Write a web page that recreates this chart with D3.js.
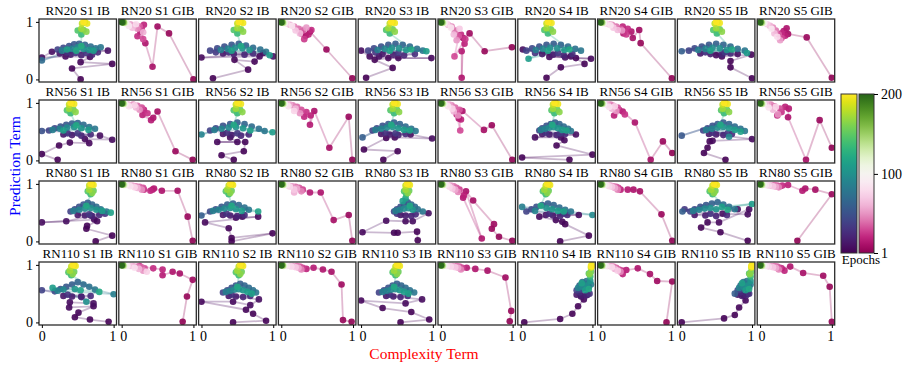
<!DOCTYPE html>
<html>
<head>
<meta charset="utf-8">
<script src="https://cdn.jsdelivr.net/npm/d3@7"></script>
<style>
  body { margin: 0; background: #fff; }
  svg { display: block; }
  text { font-family: "Liberation Serif", "Times New Roman", serif; }
</style>
</head>
<body>
<div id="chart"></div>
<script>
// panel labels
const models = ["RN20", "RN56", "RN80", "RN110"];
const seeds = ["S1", "S2", "S3", "S4", "S5"];
const methods = ["IB", "GIB"];
const axisTicks = [0, 1];
const epochTicks = [1, 100, 200];

// each point: [epoch, complexity term, prediction term]
const rn20S1IB = [[1,.54,.00],[2,.42,.19],[3,.98,.27],[4,.54,.30],[70,.00,.33],[6,.67,.39],[7,.33,.40],[8,.00,.38],[9,.14,.48],[10,.92,.50],
  [14,.25,.45],[17,.40,.43],[20,.55,.42],[23,.70,.43],[26,.78,.47],[29,.35,.47],[32,.62,.46],[35,.47,.46],
  [40,.22,.52],[45,.30,.55],[50,.38,.58],[55,.45,.61],[60,.52,.62],[65,.60,.60],[72,.68,.57],[75,.75,.54],[80,.82,.56],[85,.28,.50],[90,.42,.53],[95,.50,.56],[100,.58,.53],[105,.66,.51],[110,.72,.50],[115,.35,.52],[120,.48,.50],[125,.55,.58],
  [135,.55,.78],[145,.50,.85],[155,.58,.86],[165,.62,.83],[172,.55,.88],[182,.56,.97],[188,.60,1.0],[194,.63,.97],[200,.58,1.0]];
const rn20S1GIB = [[1,1.0,.00],[4,.66,.80],[7,.50,.92],[10,.43,.22],[13,.33,.63],[16,.26,.83],[19,.31,.95],[22,.22,.75],[25,.28,.88],[30,.30,.70],
  [36,.25,.92],[42,.18,.94],[48,.22,.88],[54,.12,.96],[60,.30,.82],[66,.15,.90],[72,.08,.97],[80,.20,.96],[88,.10,.93],[96,.05,.98],
  [110,.06,.99],[125,.04,.98],[150,.03,.99],[170,.02,1.0],[190,.01,.99],[200,.00,1.0]];
const rn20S2IB = [[1,.16,.02],[2,.65,.17],[3,.46,.34],[4,.74,.31],[5,.81,.40],[6,.00,.38],[8,.86,.46],[10,1.0,.40],
  [14,.30,.45],[18,.45,.44],[22,.60,.43],[26,.72,.45],[30,.38,.47],[34,.20,.47],
  [40,.12,.50],[45,.22,.54],[50,.32,.57],[55,.42,.60],[60,.52,.62],[65,.62,.59],[70,.72,.55],[75,.82,.52],[80,.90,.48],[85,.27,.51],[90,.37,.53],[95,.47,.55],[100,.57,.54],[105,.67,.51],[110,.95,.42],[115,.42,.50],[120,.55,.58],
  [135,.50,.80],[145,.45,.86],[155,.55,.87],[165,.58,.83],[172,.50,.89],[182,.50,.97],[190,.55,1.0],[196,.58,.98],[200,.52,1.0]];
const rn20S2GIB = [[1,.99,.02],[5,.63,.52],[9,.40,.83],[12,.34,.76],[15,.28,.80],[18,.38,.78],[22,.42,.86],[26,.32,.70],
  [34,.30,.85],[40,.24,.88],[46,.18,.92],[52,.35,.90],[58,.12,.95],[64,.26,.80],[70,.20,.85],[78,.08,.97],[86,.15,.93],[95,.05,.98],
  [110,.04,.99],[125,.03,.98],[150,.02,.99],[175,.01,1.0],[200,.00,.99]];
const rn20S3IB = [[1,.07,.03],[2,.44,.20],[3,.19,.34],[4,.38,.37],[5,.98,.37],[6,.52,.37],[7,.12,.40],[8,.00,.50],[10,.25,.40],
  [14,.30,.44],[18,.45,.43],[22,.60,.42],[26,.75,.44],[30,.20,.47],[34,.52,.46],
  [40,.10,.50],[45,.18,.54],[50,.28,.57],[55,.38,.60],[60,.48,.62],[65,.58,.60],[70,.68,.57],[75,.78,.53],[80,.86,.50],[85,.23,.51],[90,.33,.53],[95,.43,.55],[100,.53,.54],[105,.63,.51],[110,.91,.49],[115,.40,.50],[120,.70,.52],
  [135,.40,.80],[145,.35,.86],[155,.44,.87],[165,.47,.83],[172,.38,.89],[182,.40,.97],[190,.44,1.0],[196,.47,.98],[200,.42,1.0]];
const rn20S3GIB = [[1,.99,.56],[4,.61,.49],[7,.40,.80],[10,.31,.72],[13,.29,.03],[16,.29,.49],[19,.33,.62],[22,.28,.78],[26,.34,.70],[30,.19,.40],
  [34,.25,.75],[40,.20,.85],[46,.15,.92],[52,.22,.68],[58,.10,.95],[64,.18,.78],[70,.26,.88],[78,.08,.97],[86,.14,.90],[95,.05,.98],
  [110,.04,.99],[125,.03,.98],[150,.02,.99],[175,.01,1.0],[200,.00,.99]];
const rn20S4IB = [[1,.36,.03],[2,.56,.21],[3,.89,.27],[4,.77,.37],[5,.98,.36],[6,.40,.39],[7,.70,.40],[8,.03,.52],[10,.62,.38],
  [14,.30,.44],[18,.45,.43],[22,.60,.42],[26,.72,.44],[30,.20,.46],[34,.52,.46],
  [40,.08,.50],[45,.16,.54],[50,.26,.57],[55,.36,.60],[60,.46,.62],[65,.56,.60],[70,.66,.57],[75,.76,.53],[80,.84,.50],[85,.21,.51],[90,.31,.53],[95,.41,.55],[100,.51,.54],[105,.61,.51],[110,.11,.36],[115,.38,.50],[120,.68,.52],
  [135,.38,.80],[145,.33,.86],[155,.42,.87],[165,.45,.83],[172,.36,.89],[182,.36,.97],[190,.40,1.0],[196,.43,.98],[200,.38,1.0]];
const rn20S4GIB = [[1,.995,.02],[4,.56,.63],[7,.54,.86],[10,.45,.72],[13,.43,.83],[16,.32,.80],[19,.31,.92],[22,.38,.88],[26,.36,.78],
  [34,.28,.88],[40,.22,.92],[46,.16,.95],[52,.30,.85],[58,.12,.96],[64,.24,.86],[70,.18,.90],[78,.08,.97],[86,.14,.94],[95,.05,.98],
  [110,.04,.99],[125,.03,.98],[150,.02,.99],[175,.01,1.0],[200,.00,.99]];
const rn20S5IB = [[1,1.0,.02],[2,.70,.21],[3,.70,.32],[4,.99,.43],[5,.58,.40],[6,.50,.42],[60,.02,.49],[9,.80,.44],
  [14,.28,.45],[18,.42,.44],[22,.58,.43],[26,.70,.45],[30,.35,.47],[34,.62,.47],
  [40,.12,.50],[45,.20,.54],[50,.30,.57],[55,.40,.60],[62,.50,.62],[65,.60,.60],[70,.70,.57],[75,.80,.53],[80,.90,.50],[85,.25,.51],[90,.35,.53],[95,.45,.55],[100,.55,.54],[105,.65,.51],[110,.93,.46],[115,.42,.50],[120,.72,.52],
  [135,.51,.80],[145,.46,.86],[155,.55,.87],[165,.58,.83],[172,.50,.89],[182,.48,.97],[190,.52,1.0],[196,.55,.98],[200,.50,1.0]];
const rn20S5GIB = [[1,1.0,.03],[5,.65,.73],[9,.39,.79],[12,.37,.89],[15,.33,.84],[18,.35,.76],[22,.30,.80],
  [30,.30,.72],[36,.26,.78],[42,.22,.85],[48,.18,.90],[54,.28,.68],[60,.14,.93],[66,.20,.80],[72,.10,.96],[80,.24,.74],[88,.16,.88],[95,.06,.98],
  [110,.04,.99],[125,.03,.98],[150,.02,.99],[175,.01,1.0],[200,.00,.99]];

const rn56S1IB = [[1,.22,.01],[2,.00,.11],[3,.24,.26],[4,.39,.31],[5,.66,.30],[6,.60,.37],[7,.98,.36],[8,.81,.43],[50,.00,.51],
  [13,.30,.45],[17,.42,.44],[21,.55,.43],[25,.68,.45],[29,.36,.47],[33,.50,.47],
  [40,.10,.52],[45,.18,.56],[52,.26,.59],[55,.34,.62],[60,.42,.64],[65,.50,.65],[70,.58,.62],[75,.66,.58],[80,.74,.55],[85,.15,.53],[90,.25,.55],[95,.35,.57],[100,.45,.58],[105,.55,.56],[110,.65,.53],[115,.30,.52],[120,.48,.61],
  [135,.40,.82],[145,.35,.87],[155,.44,.88],[165,.47,.84],[172,.38,.90],[182,.38,.97],[190,.42,1.0],[196,.45,.98],[200,.40,1.0]];
const rn56S1GIB = [[1,.99,.01],[5,.75,.16],[9,.50,.85],[12,.44,.74],[15,.41,.70],[18,.29,.79],[21,.31,.88],[24,.36,.82],
  [32,.28,.92],[38,.22,.95],[44,.16,.97],[50,.25,.88],[56,.12,.96],[62,.20,.92],[68,.08,.98],[76,.18,.96],[84,.10,.94],[95,.05,.98],
  [110,.04,.99],[125,.03,.98],[150,.02,.99],[175,.01,1.0],[200,.00,.99]];
const rn56S2IB = [[1,.45,.01],[2,.28,.09],[3,.59,.16],[4,.61,.32],[5,.22,.32],[6,.50,.32],[90,.00,.45],[8,.40,.40],
  [13,.30,.46],[17,.42,.44],[21,.55,.43],[25,.66,.45],[29,.36,.48],[33,.50,.47],
  [40,.12,.52],[45,.20,.56],[50,.30,.60],[55,.40,.63],[60,.50,.66],[65,.60,.63],[70,.70,.59],[75,.80,.55],[80,.88,.51],[85,.18,.53],[92,.28,.55],[95,.38,.57],[100,.48,.58],[105,.58,.56],[110,.99,.49],[115,.68,.52],[120,.45,.62],
  [135,.50,.82],[145,.45,.87],[155,.54,.88],[165,.57,.84],[172,.48,.90],[182,.48,.97],[190,.52,1.0],[196,.55,.98],[200,.50,1.0]];
const rn56S2GIB = [[1,.99,.01],[5,.94,.76],[9,.67,.22],[12,.46,.86],[15,.40,.62],[18,.41,.78],[21,.32,.76],[24,.35,.84],
  [32,.28,.88],[38,.22,.93],[44,.16,.96],[50,.26,.82],[56,.12,.97],[62,.20,.90],[68,.08,.98],[76,.18,.86],[84,.10,.94],[95,.05,.98],
  [110,.04,.99],[125,.03,.98],[150,.02,.99],[175,.01,1.0],[200,.00,.99]];
const rn56S3IB = [[1,.31,.01],[2,.51,.16],[3,.04,.19],[4,.35,.39],[5,.47,.40],[60,.02,.40],[7,.99,.38],[8,.69,.45],
  [13,.28,.46],[17,.40,.45],[21,.52,.44],[25,.62,.46],[29,.34,.48],[33,.48,.47],
  [40,.16,.52],[45,.22,.56],[50,.30,.60],[55,.38,.63],[62,.46,.66],[65,.54,.63],[70,.62,.59],[75,.70,.55],[80,.76,.51],[85,.20,.53],[90,.28,.55],[95,.36,.57],[100,.44,.58],[105,.52,.56],[110,.60,.53],[115,.68,.52],[120,.42,.62],
  [135,.46,.82],[145,.41,.87],[155,.50,.88],[165,.53,.84],[172,.44,.90],[182,.44,.97],[190,.48,1.0],[196,.51,.98],[200,.46,1.0]];
const rn56S3GIB = [[1,.995,.01],[5,.71,.61],[9,.60,.53],[12,.30,.86],[15,.25,.73],[18,.28,.71],[22,.22,.80],[30,.27,.52],
  [34,.26,.88],[38,.20,.92],[44,.15,.96],[50,.24,.78],[56,.12,.97],[62,.18,.85],[68,.08,.98],[76,.16,.90],[84,.10,.94],[95,.05,.98],
  [110,.04,.99],[125,.03,.98],[150,.02,.99],[175,.01,1.0],[200,.00,.99]];
const rn56S3IB2 = [[1,.68,.01],[2,.02,.05],[3,1.0,.10],[4,.50,.26],[5,.61,.35],[6,.56,.40],[7,.20,.40],[8,.77,.45],
  [13,.30,.46],[17,.40,.45],[21,.50,.44],[25,.62,.46],[29,.35,.48],[33,.55,.47],
  [40,.26,.52],[45,.30,.56],[50,.36,.60],[55,.42,.63],[60,.48,.66],[65,.54,.63],[70,.60,.59],[75,.66,.55],[80,.70,.51],[85,.28,.53],[90,.34,.55],[95,.40,.57],[100,.46,.58],[105,.52,.56],[110,.58,.53],[115,.64,.52],[120,.44,.62],
  [135,.47,.82],[145,.43,.87],[155,.51,.88],[165,.54,.84],[172,.45,.90],[182,.45,.97],[190,.49,1.0],[196,.52,.98],[200,.47,1.0]];
const rn56S4GIB = [[1,1.0,.13],[5,.87,.33],[9,.70,.01],[12,.48,.66],[15,.31,.85],[18,.19,.78],[21,.26,.88],[24,.34,.80],
  [32,.24,.92],[38,.18,.95],[44,.14,.97],[50,.22,.86],[56,.10,.97],[62,.16,.90],[68,.07,.98],[76,.20,.94],[84,.12,.93],[95,.05,.98],
  [110,.04,.99],[125,.03,.98],[150,.02,.99],[175,.01,1.0],[200,.00,.99]];
const rn56S4IB = [[1,.63,.01],[2,.33,.13],[3,.38,.22],[4,.41,.33],[5,.45,.34],[6,1.0,.37],[95,.68,.41],[55,.02,.43],
  [13,.40,.46],[17,.50,.45],[21,.60,.44],[25,.72,.46],[29,.45,.48],[33,.66,.47],
  [40,.32,.52],[45,.38,.56],[50,.45,.60],[57,.52,.63],[60,.60,.66],[65,.68,.63],[70,.76,.59],[75,.84,.55],[80,.90,.51],[85,.36,.53],[90,.44,.55],[97,.52,.57],[100,.60,.58],[105,.68,.56],[110,.76,.53],[115,.84,.50],[120,.56,.62],
  [135,.61,.82],[145,.57,.87],[155,.65,.88],[165,.68,.84],[172,.59,.90],[182,.59,.97],[190,.63,1.0],[196,.66,.98],[200,.61,1.0]];
const rn56S5GIB = [[1,1.0,.22],[5,.83,.70],[9,.64,.01],[12,.39,.75],[15,.40,.90],[18,.35,.93],[21,.24,.78],[24,.30,.84],
  [32,.28,.90],[38,.20,.94],[44,.15,.97],[50,.25,.80],[56,.11,.97],[62,.18,.88],[68,.08,.98],[76,.22,.93],[84,.12,.92],[95,.05,.98],
  [110,.04,.99],[125,.03,.98],[150,.02,.99],[175,.01,1.0],[200,.00,.99]];

const rn80S1IB = [[1,.75,.00],[2,.98,.10],[3,.62,.22],[4,.63,.27],[5,.77,.35],[6,.73,.38],[7,.00,.33],[8,.34,.35],[9,.68,.45],
  [13,.50,.46],[17,.60,.45],[21,.70,.44],[25,.80,.46],[29,.88,.48],[33,.66,.47],
  [40,.40,.52],[45,.46,.56],[50,.52,.60],[55,.58,.64],[60,.64,.67],[65,.70,.64],[70,.76,.60],[75,.82,.56],[80,.90,.52],[85,.44,.53],[90,.52,.55],[95,.60,.57],[100,.68,.58],[105,.76,.55],[110,.84,.53],[115,.96,.50],[120,.62,.62],
  [135,.68,.82],[145,.64,.87],[155,.72,.88],[165,.70,.84],[172,.66,.90],[182,.66,.97],[190,.70,1.0],[196,.72,.98],[200,.68,1.0]];
const rn80S1GIB = [[1,.99,.01],[5,.92,.43],[9,.78,.88],[12,.56,.88],[15,.45,.92],[18,.43,.90],[21,.40,.88],[24,.31,.90],
  [32,.30,.93],[38,.25,.95],[44,.20,.96],[50,.28,.90],[56,.15,.97],[62,.22,.93],[68,.10,.98],[76,.18,.94],[84,.12,.96],[95,.06,.98],
  [110,.04,.99],[125,.03,.98],[150,.02,.99],[175,.01,1.0],[200,.00,.99]];
const rn80S2IB = [[1,.42,.00],[2,.99,.14],[3,.42,.06],[4,.38,.23],[5,.05,.33],[6,.79,.43],[7,.48,.41],[8,.57,.43],
  [13,.30,.46],[17,.40,.45],[21,.50,.44],[25,.60,.46],[29,.35,.48],
  [60,.00,.45],[45,.12,.52],[50,.20,.56],[55,.28,.60],[62,.36,.64],[65,.44,.66],[70,.52,.63],[75,.60,.59],[80,.66,.55],[85,.16,.53],[90,.24,.55],[95,.32,.57],[100,.40,.58],[105,.48,.56],[110,.56,.53],[115,.79,.52],[120,.42,.62],
  [135,.38,.82],[145,.34,.87],[155,.42,.88],[165,.40,.84],[172,.36,.90],[182,.38,.97],[190,.42,1.0],[196,.44,.98],[200,.40,1.0]];
const rn80S2GIB = [[1,.99,.01],[5,.94,.46],[9,.73,.37],[12,.55,.85],[15,.40,.85],[60,.18,.85],
  [28,.30,.90],[34,.25,.93],[40,.20,.95],[46,.28,.87],[52,.15,.96],[58,.22,.92],[64,.10,.97],[70,.18,.90],[78,.12,.95],[86,.08,.98],[95,.05,.98],
  [110,.04,.99],[125,.03,.98],[150,.02,.99],[175,.01,1.0],[200,.00,.99]];
const rn80S3IB = [[1,.79,.02],[2,.78,.17],[3,.51,.15],[4,.46,.15],[5,.02,.16],[6,.35,.36],[7,.62,.35],[8,.72,.35],[9,.94,.49],
  [13,.55,.46],[17,.62,.45],[21,.70,.44],[25,.76,.47],[29,.50,.48],
  [40,.46,.52],[45,.50,.56],[50,.55,.60],[55,.60,.64],[60,.65,.68],[65,.70,.64],[70,.75,.60],[75,.79,.56],[80,.86,.52],[85,.48,.53],[90,.54,.55],[95,.60,.57],[100,.66,.58],[105,.72,.55],[110,.58,.70],[115,.62,.75],[120,.68,.62],
  [135,.63,.82],[145,.60,.87],[155,.67,.88],[165,.65,.84],[172,.62,.90],[182,.62,.97],[190,.66,1.0],[196,.68,.98],[200,.64,1.0]];
const rn80S3GIB = [[1,.995,.01],[3,.81,.08],[5,.71,.22],[7,.74,.30],[9,.45,.71],[11,.35,.87],[13,.57,.05],[15,.31,.76],[18,.32,.80],
  [28,.26,.90],[34,.22,.93],[40,.18,.96],[46,.24,.86],[52,.14,.97],[58,.20,.90],[64,.10,.98],[70,.16,.92],[78,.12,.95],[86,.08,.98],[95,.05,.98],
  [110,.04,.99],[125,.03,.98],[150,.02,.99],[175,.01,1.0],[200,.00,.99]];
const rn80S4IB = [[1,.55,.00],[2,.95,.10],[3,.62,.30],[4,.58,.34],[5,.49,.37],[6,.26,.43],[7,.81,.46],
  [12,.35,.46],[16,.45,.45],[20,.55,.44],[24,.65,.46],[28,.40,.48],[32,.60,.48],
  [40,.08,.52],[45,.15,.56],[50,.22,.60],[55,.30,.63],[60,.38,.66],[65,.46,.63],[70,.54,.59],[75,.62,.55],[80,.70,.52],[85,.02,.60],[90,.20,.53],[95,1.0,.46],[100,.36,.58],[105,.44,.56],[110,.52,.53],[115,.60,.52],[120,.28,.62],
  [135,.35,.82],[145,.31,.87],[155,.39,.88],[165,.37,.84],[172,.33,.90],[182,.35,.97],[190,.39,1.0],[196,.41,.98],[200,.37,1.0]];
const rn80S4GIB = [[1,1.0,.01],[5,.85,.47],[9,.55,.87],[12,.46,.90],[15,.38,.90],[18,.28,.90],
  [28,.25,.93],[34,.22,.95],[40,.18,.96],[46,.24,.90],[52,.14,.97],[58,.20,.93],[64,.10,.98],[70,.16,.95],[78,.12,.96],[86,.08,.98],[95,.05,.98],
  [110,.04,.99],[125,.03,.98],[150,.02,.99],[175,.01,1.0],[200,.00,.99]];
const rn80S5IB = [[1,.94,.01],[2,.56,.16],[3,.29,.24],[4,.38,.33],[5,.54,.33],[6,.96,.56],[7,.94,.47],[8,.59,.48],[60,.03,.52],[10,.80,.56],
  [13,.20,.46],[17,.35,.45],[21,.50,.44],[25,.65,.46],[29,.42,.48],[33,.06,.56],
  [40,.14,.52],[45,.20,.56],[50,.28,.60],[55,.36,.63],[62,.44,.66],[65,.52,.68],[70,.60,.64],[75,.68,.60],[80,.76,.56],[85,.18,.53],[90,.26,.55],[95,.34,.57],[100,.42,.58],[105,.50,.56],[110,1.0,.65],[115,.58,.60],[120,.66,.55],
  [135,.45,.82],[145,.41,.87],[155,.49,.88],[165,.47,.84],[172,.43,.90],[182,.45,.97],[190,.49,1.0],[196,.51,.98],[200,.47,1.0]];
const rn80S5GIB = [[1,.52,.01],[5,1.0,.82],[9,.77,.90],[12,.63,.92],[15,.59,.88],[18,.39,.98],[21,.31,.97],
  [28,.28,.96],[34,.24,.97],[40,.20,.98],[46,.26,.94],[52,.15,.97],[58,.22,.95],[64,.10,.98],[70,.18,.96],[78,.12,.97],[86,.08,.98],[95,.05,.99],
  [110,.04,.99],[125,.03,.98],[150,.02,.99],[175,.01,1.0],[200,.00,.99]];

const rn110S1IB = [[1,.93,.01],[2,.67,.05],[3,.46,.09],[4,.51,.17],[5,.72,.28],[6,.38,.26],[7,.39,.35],[8,.72,.33],[9,.55,.45],
  [13,.30,.46],[17,.42,.45],[21,.55,.44],[25,.68,.46],[29,.36,.48],
  [40,.00,.56],[45,.18,.54],[50,.26,.58],[55,.34,.62],[60,.42,.66],[65,.50,.70],[70,.58,.66],[75,.66,.62],[80,.74,.57],[85,1.0,.49],[90,.22,.55],[95,.30,.57],[100,.62,.36],[105,.46,.58],[110,.15,.60],[115,.54,.56],[120,.80,.53],
  [135,.41,.82],[145,.37,.87],[155,.45,.88],[165,.43,.84],[172,.39,.90],[182,.41,.97],[190,.45,1.0],[196,.47,.98],[200,.43,1.0]];
const rn110S1GIB = [[1,.85,.01],[4,.91,.45],[7,.99,.74],[10,.81,.85],[13,.71,.88],[16,.57,.82],[19,.57,.92],[22,.44,.94],[25,.25,.98],
  [32,.32,.94],[38,.28,.96],[44,.22,.97],[50,.30,.90],[56,.16,.98],[62,.24,.93],[68,.12,.98],[74,.35,.88],[82,.18,.95],[90,.08,.98],[98,.05,.99],
  [110,.04,.99],[125,.03,.98],[150,.02,.99],[175,.01,1.0],[200,.00,.99]];
const rn110S2IB = [[1,.44,.00],[2,.90,.03],[3,.72,.15],[4,.62,.22],[5,.00,.36],[6,.44,.36],[7,.68,.30],[8,.80,.40],
  [13,.38,.46],[17,.48,.45],[21,.58,.44],[25,.68,.46],[29,.42,.48],
  [40,.30,.52],[45,.36,.56],[50,.42,.60],[55,.48,.64],[60,.54,.67],[65,.60,.64],[70,.66,.60],[75,.72,.56],[80,.76,.52],[85,.34,.53],[90,.40,.55],[95,.46,.57],[100,.52,.58],[105,.58,.56],[110,.64,.53],[115,.70,.50],[120,.50,.62],
  [135,.52,.82],[145,.48,.87],[155,.56,.88],[165,.54,.84],[172,.50,.90],[182,.52,.97],[190,.56,1.0],[196,.58,.98],[200,.54,1.0]];
const rn110S2GIB = [[1,.98,.01],[4,.86,.04],[7,.84,.66],[10,.70,.88],[13,.58,.92],[16,.45,.95],[19,.35,.93],
  [28,.30,.95],[34,.26,.97],[40,.22,.98],[46,.28,.92],[52,.16,.98],[58,.24,.95],[64,.12,.98],[70,.20,.96],[78,.14,.97],[86,.08,.98],[95,.05,.99],
  [110,.04,.99],[125,.03,.98],[150,.02,.99],[175,.01,1.0],[200,.00,.99]];
const rn110S3IB = [[1,.55,.00],[2,.95,.05],[3,.70,.18],[4,.30,.25],[5,.00,.38],[6,.62,.33],[7,.85,.40],
  [13,.35,.46],[17,.45,.45],[21,.55,.44],[25,.65,.46],[29,.40,.48],
  [40,.25,.52],[45,.32,.56],[50,.38,.60],[55,.44,.64],[60,.50,.67],[65,.56,.64],[70,.62,.60],[75,.68,.56],[80,.74,.52],[85,.30,.53],[90,.36,.55],[95,.42,.57],[100,.48,.58],[105,.54,.56],[110,.60,.53],[115,.66,.50],[120,.46,.62],
  [135,.48,.82],[145,.44,.87],[155,.52,.88],[165,.50,.84],[172,.46,.90],[182,.48,.97],[190,.52,1.0],[196,.54,.98],[200,.50,1.0]];
const rn110S3GIB = [[1,.96,.02],[4,.98,.20],[7,.90,.78],[10,.65,.90],[13,.48,.93],[16,.36,.95],
  [28,.30,.95],[34,.26,.97],[40,.22,.98],[46,.28,.92],[52,.16,.98],[58,.24,.95],[64,.12,.98],[70,.20,.96],[78,.14,.97],[86,.08,.98],[95,.05,.99],
  [110,.04,.99],[125,.03,.98],[150,.02,.99],[175,.01,1.0],[200,.00,.99]];
const rn110S4IB = [[1,.05,.00],[2,.55,.06],[3,.72,.15],[4,.80,.28],[5,.88,.40],[6,.84,.45],[7,.93,.48],
  [13,.78,.48],[17,.85,.46],[21,.92,.47],[25,.82,.52],[29,.96,.50],
  [40,.78,.56],[45,.84,.58],[50,.90,.60],[55,.95,.62],[60,.82,.64],[65,.88,.66],[70,.94,.68],[75,.86,.70],[80,.92,.72],[85,.98,.66],[90,.80,.60],[95,.86,.62],[100,.92,.64],[105,.97,.72],[110,.90,.56],[115,.85,.68],[120,.95,.58],
  [135,.97,.80],[145,.95,.85],[155,.98,.88],[165,.96,.84],[182,.98,.95],[190,.99,1.0],[196,.98,.98],[200,.99,.97]];
const rn110S4GIB = [[1,.92,.00],[4,1.0,.71],[7,.79,.72],[10,.69,.84],[13,.52,.94],[16,.36,.91],[19,.31,.84],[22,.30,.90],
  [30,.26,.92],[36,.22,.95],[42,.18,.97],[48,.28,.88],[54,.14,.98],[60,.20,.93],[66,.10,.98],[72,.24,.90],[80,.16,.96],[88,.08,.98],[96,.05,.99],
  [110,.04,.99],[125,.03,.98],[150,.02,.99],[175,.01,1.0],[200,.00,.99]];
const rn110S5IB = [[1,.02,.00],[2,.61,.07],[3,.76,.13],[4,.82,.26],[5,.91,.38],[6,.88,.47],[7,.94,.50],[60,.76,.50],
  [13,.80,.48],[17,.86,.46],[21,.92,.47],[25,.84,.52],[29,.96,.50],
  [40,.80,.56],[45,.86,.58],[50,.92,.60],[55,.96,.62],[62,.84,.64],[65,.90,.66],[70,.95,.68],[75,.88,.70],[80,.93,.72],[85,.98,.66],[90,.82,.60],[95,.88,.62],[100,.94,.64],[105,.98,.72],[110,.91,.56],[115,.86,.68],[120,.96,.58],
  [135,.98,.80],[145,.96,.85],[155,.99,.88],[165,.97,.84],[182,.99,.95],[190,1.0,1.0],[196,.99,.98],[200,1.0,.97]];
const rn110S5GIB = [[1,1.0,.01],[4,.97,.62],[7,.88,.81],[10,.60,.86],[13,.42,.97],[16,.30,.94],[19,.34,.90],
  [28,.28,.95],[34,.24,.97],[40,.20,.98],[46,.26,.92],[52,.15,.98],[58,.22,.95],[64,.10,.99],[70,.18,.96],[78,.12,.97],[86,.08,.98],[95,.05,.99],
  [110,.04,.99],[125,.03,.98],[150,.02,.99],[175,.01,1.0],[200,.00,.99]];

// rows = models, columns = seed x method
const panelRows = [
  [rn20S1IB, rn20S1GIB, rn20S2IB, rn20S2GIB, rn20S3IB, rn20S3GIB, rn20S4IB, rn20S4GIB, rn20S5IB, rn20S5GIB],
  [rn56S1IB, rn56S1GIB, rn56S2IB, rn56S2GIB, rn56S3IB, rn56S3GIB, rn56S3IB2, rn56S4GIB, rn56S4IB, rn56S5GIB],
  [rn80S1IB, rn80S1GIB, rn80S2IB, rn80S2GIB, rn80S3IB, rn80S3GIB, rn80S4IB, rn80S4GIB, rn80S5IB, rn80S5GIB],
  [rn110S1IB, rn110S1GIB, rn110S2IB, rn110S2GIB, rn110S3IB, rn110S3GIB, rn110S4IB, rn110S4GIB, rn110S5IB, rn110S5GIB]
];

const width = 913;
const height = 366;
const colX0 = 39, colStep = 79.8, panelW = 77.5;
const rowY0 = 19, rowStep = 81, panelH = 63;

const ibColor = d3.scaleSequential(d3.interpolateViridis).domain([1, 200]);
const gibColor = d3.scaleSequential(d3.interpolatePiYG).domain([1, 200]);

const svg = d3.select("#chart").append("svg").attr("width", width).attr("height", height);
const defs = svg.append("defs");
const labelLayer = svg.append("g");

panelRows.forEach((row, r) => {
  row.forEach((pts, c) => {
    const method = methods[c % 2];
    const seed = seeds[Math.floor(c / 2)];
    const color = method === "IB" ? ibColor : gibColor;
    const left = colX0 + c * colStep;
    const top = rowY0 + r * rowStep;

    const x = d3.scaleLinear().domain([-0.04, 1.04]).range([left, left + panelW]);
    const y = d3.scaleLinear().domain([-0.045, 1.05]).range([top + panelH, top]);

    const clipId = `clip-${r}-${c}`;
    defs.append("clipPath").attr("id", clipId)
      .append("rect").attr("x", left).attr("y", top).attr("width", panelW).attr("height", panelH);

    const data = pts.slice().sort((a, b) => a[0] - b[0]);
    const g = svg.append("g").attr("clip-path", `url(#${clipId})`);

    // trajectory
    g.selectAll("line")
      .data(d3.pairs(data))
      .join("line")
      .attr("x1", d => x(d[0][1])).attr("y1", d => y(d[0][2]))
      .attr("x2", d => x(d[1][1])).attr("y2", d => y(d[1][2]))
      .attr("stroke", d => color(d[0][0]))
      .attr("stroke-opacity", 0.28)
      .attr("stroke-width", 1.8);

    g.selectAll("circle")
      .data(data)
      .join("circle")
      .attr("cx", d => x(d[1]))
      .attr("cy", d => y(d[2]))
      .attr("r", 3.3)
      .attr("fill", d => color(d[0]))
      .attr("fill-opacity", 0.9);

    svg.append("rect")
      .attr("x", left).attr("y", top).attr("width", panelW).attr("height", panelH)
      .attr("fill", "none").attr("stroke", "#2b2b2b").attr("stroke-width", 1.3);

    svg.append("text")
      .attr("x", left + panelW / 2).attr("y", top - 4)
      .attr("text-anchor", "middle")
      .attr("font-size", 13)
      .text(`${models[r]} ${seed} ${method}`);

    if (c === 0) {
      const ax = svg.append("g")
        .attr("transform", `translate(${left},0)`)
        .call(d3.axisLeft(y).tickValues(axisTicks).tickSize(3).tickPadding(3).tickFormat(d3.format("d")));
      ax.select(".domain").remove();
      ax.selectAll("text").attr("font-size", 14).attr("font-family", "Liberation Serif").attr("fill", "#000");
    }
    if (r === panelRows.length - 1) {
      const ax = labelLayer.append("g")
        .attr("transform", `translate(0,${top + panelH})`)
        .call(d3.axisBottom(x).tickValues(axisTicks).tickSize(3).tickPadding(3).tickFormat(d3.format("d")));
      ax.select(".domain").remove();
      // the "1" of one panel and the "0" of the next sit side by side
      ax.selectAll("text")
        .attr("font-size", 14).attr("font-family", "Liberation Serif").attr("fill", "#000")
        .attr("dx", d => d === 1 ? -1.5 : (c > 0 ? 1.5 : 0));
    }
  });
});
labelLayer.raise();

// axis titles
svg.append("text")
  .attr("transform", "translate(20,166) rotate(-90)")
  .attr("text-anchor", "middle")
  .attr("font-size", 15.5)
  .attr("fill", "#0000ff")
  .text("Prediction Term");

svg.append("text")
  .attr("x", 424).attr("y", 359)
  .attr("text-anchor", "middle")
  .attr("font-size", 15.5)
  .attr("fill", "#ff0000")
  .text("Complexity Term");

// colour bars
const cbTop = 94, cbBottom = 253;
const bars = [
  { id: "cb-viridis", x: 841, w: 16, interp: d3.interpolateViridis },
  { id: "cb-piyg", x: 859, w: 15, interp: d3.interpolatePiYG }
];
bars.forEach(b => {
  const grad = defs.append("linearGradient").attr("id", b.id)
    .attr("x1", 0).attr("y1", 1).attr("x2", 0).attr("y2", 0);
  d3.range(0, 1.0001, 0.05).forEach(t => {
    grad.append("stop").attr("offset", t).attr("stop-color", b.interp(t));
  });
  svg.append("rect")
    .attr("x", b.x).attr("y", cbTop).attr("width", b.w).attr("height", cbBottom - cbTop)
    .attr("fill", `url(#${b.id})`)
    .attr("stroke", "#333").attr("stroke-width", 1);
});

const epochScale = d3.scaleLinear().domain([1, 200]).range([cbBottom, cbTop]);
const cbAxis = svg.append("g")
  .attr("transform", "translate(874,0)")
  .call(d3.axisRight(epochScale).tickValues(epochTicks).tickSize(4).tickPadding(3).tickFormat(d3.format("d")));
cbAxis.select(".domain").remove();
cbAxis.selectAll("text").attr("font-size", 14).attr("font-family", "Liberation Serif").attr("fill", "#000");

svg.append("text")
  .attr("x", 861).attr("y", 264)
  .attr("text-anchor", "middle")
  .attr("font-size", 13)
  .text("Epochs");
</script>
</body>
</html>
